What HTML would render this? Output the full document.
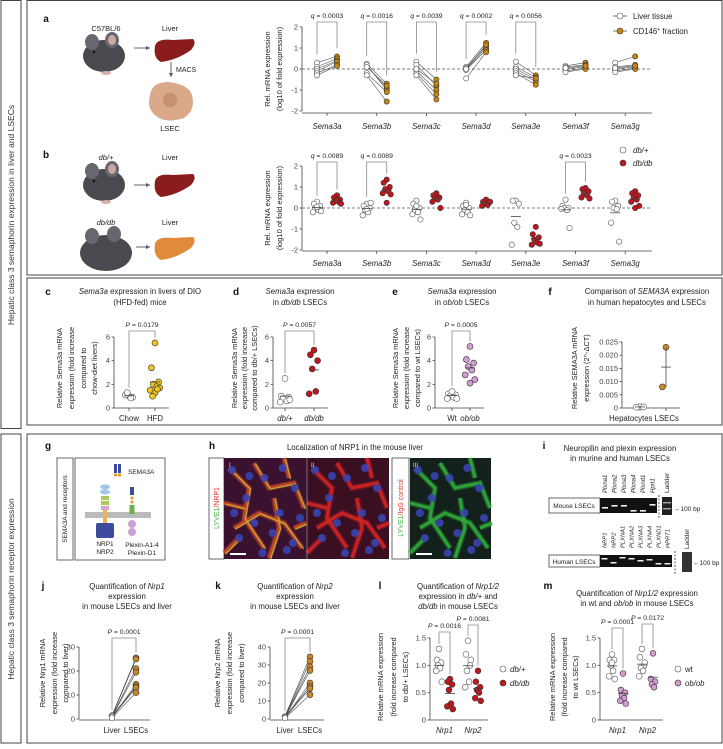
<!DOCTYPE html>
<html><head><meta charset="utf-8">
<style>
html,body{margin:0;padding:0;background:#fff;}
svg{display:block;font-family:"Liberation Sans",sans-serif;}
</style></head>
<body>
<svg id="fig" width="723" height="749" viewBox="0 0 723 749" xmlns="http://www.w3.org/2000/svg"></svg>
<script>
// ---------- DATA ----------
const semaCats = ['Sema3a','Sema3b','Sema3c','Sema3d','Sema3e','Sema3f','Sema3g'];
const aTickVals = [2,1,0,-1,-2];
const aLiver = [[0.3,0.1,0,-0.1,-0.2,-0.3],[0.25,0.15,0.2,-0.2,-0.3,0.1],[0.35,0.2,-0.1,-0.2,-0.3,0.0],[0.1,0.05,0,-0.05,-0.45,0.0],[0.35,0.1,0,-0.1,-0.2,-0.3],[0.15,0.1,0,-0.1,-0.15,0.05],[0.3,0.1,0,-0.1,-0.15,0.05]];
const aCD146 = [[0.6,0.5,0.4,0.35,0.2,0.15],[-0.7,-0.9,-1.0,-1.1,-1.55,-0.8],[-0.5,-0.8,-1.0,-1.2,-1.45,-0.7],[1.25,1.1,1.0,0.9,0.8,1.15],[-0.3,-0.4,-0.5,-0.6,-0.75,-0.45],[0.3,0.2,0.1,0.05,0,0.15],[0.6,0.2,0.1,0.05,0,0.15]];
const aQ = ['q = 0.0003','q = 0.0016','q = 0.0039','q = 0.0002','q = 0.0056'];
const bOpen = [[0.3,0.2,0.1,0,-0.1,-0.2,-0.15,0.05],[0.2,0.1,0,-0.1,-0.2,-0.35,0.25,-0.05],[0.35,0.2,0,-0.1,-0.2,-0.3,-0.55,0.1],[0.25,0.1,0,-0.1,-0.2,-0.3,-0.35,0.15],[0.35,0.35,0.2,-0.7,-0.9,-1.75],[0.4,0.1,0,0,-0.1,-0.05,-0.95],[0.35,0.3,0.1,0,-0.05,-0.7,-1.6]];
const bFilled = [[0.6,0.5,0.4,0.35,0.3,0.25,0.2,0.35],[1.35,1.2,1.0,0.9,0.8,0.7,0.65,0.25],[0.7,0.6,0.5,0.45,0.4,0.3,0.0],[0.4,0.3,0.25,0.2,0.15,0.1,0.3],[-0.9,-1.25,-1.4,-1.5,-1.65,-1.75,-1.7],[0.95,0.9,0.8,0.7,0.6,0.5,0.45],[0.8,0.7,0.6,0.5,0.4,0.3,0.1,0]];
const bQ = [['q = 0.0089',0],['q = 0.0089',1],['q = 0.0023',5]];
const cTicks = [0,2,4,6];
const cChow = [1.0,1.1,0.9,1.3,0.85];
const cHFD = [5.5,3.4,2.2,2.0,1.8,1.5,1.7,1.3,1.0,1.6];
const dDbPlus = [2.5,1.0,0.9,0.8,0.6,0.5,0.7];
const dDbDb = [4.9,4.5,4.0,3.3,1.4,1.2];
const eWt = [1.3,1.2,1.1,1.0,0.9,0.8,0.8,1.4];
const eOb = [5.2,4.1,3.8,3.5,3.2,2.8,2.4,2.1];
const fTicks = [0,0.005,0.010,0.015,0.020,0.025];
const fTickLabels = ['0','0.005','0.010','0.015','0.020','0.025'];
const fHep = [0.0005,0.0003,0.0004];
const fLSEC = [0.023,0.008];
const jTicks = [0,10,20,30];
const jLiver = [1.5,1.2,1.0,0.8,0.6,1.3,0.9,0.5];
const jLSEC = [25.5,25,21,19.5,14.5,13.5,13,11];
const kTicks = [0,10,20,30,40];
const kLiver = [1.5,1.2,1.0,0.8,0.6,1.3,0.9,0.5];
const kLSEC = [34.5,32,29,27,20,18,17,13.5];
const lmTicks = [0,0.5,1.0,1.5];
const lNrp1Plus = [1.3,1.1,1.05,1.0,0.95,0.9,0.7];
const lNrp1Db = [0.75,0.7,0.65,0.55,0.3,0.25,0.2];
const lNrp2Plus = [1.45,1.2,1.0,0.9,0.7,0.6,1.1];
const lNrp2Db = [0.9,0.7,0.6,0.55,0.5,0.4,0.35];
const mNrp1Wt = [1.2,1.1,1.1,1.0,0.9,0.8,0.75,1.05];
const mNrp1Ob = [0.85,0.55,0.5,0.45,0.4,0.35,0.3];
const mNrp2Wt = [1.3,1.15,1.0,0.95,0.9,0.8,1.05];
const mNrp2Ob = [1.22,0.75,0.7,0.65,0.6];

// ---------- HELPERS ----------
const NS='http://www.w3.org/2000/svg';
const svg=document.getElementById('fig');
function add(parent,tag,attrs,name){
  const e=document.createElementNS(NS,tag);
  for(const k in attrs) e.setAttribute(k,attrs[k]);
  
  
  parent.appendChild(e);
  return e;
}
function txt(parent,x,y,s,opt,name){
  opt=opt||{};
  const a={x:x,y:y,'font-size':opt.size||7,fill:opt.fill||'#222','text-anchor':opt.anchor||'middle'};
  if(opt.weight) a['font-weight']=opt.weight;
  if(opt.rot!==undefined) a.transform='rotate('+opt.rot+' '+x+' '+y+')';
  const t=add(parent,'text',a,name);
  const parts=s.split('*');
  parts.forEach((p,i)=>{ if(!p) return; const ts=document.createElementNS(NS,'tspan'); if(i%2===1) ts.setAttribute('font-style','italic'); ts.textContent=p; t.appendChild(ts);});
  return t;
}
function line(p,x1,y1,x2,y2,st,w,name,dash){
  const a={x1:x1,y1:y1,x2:x2,y2:y2,stroke:st||'#333','stroke-width':w||0.8};
  if(dash) a['stroke-dasharray']=dash;
  return add(p,'line',a,name);
}
function dot(p,x,y,r,fill,name){
  return add(p,'circle',{cx:x,cy:y,r:r,fill:fill,stroke:fill==='#fff'?'#555':'#333','stroke-width':0.6},name);
}
function lin(d0,d1,p0,p1){return v=>p0+(v-d0)*(p1-p0)/(d1-d0);}
function yAxis(p,x,ticks,ys,labels,name){
  const g=add(p,'g',{},name);
  line(g,x,ys(ticks[0]),x,ys(ticks[ticks.length-1]),'#444',0.8,'y-axis-line');
  ticks.forEach((t,i)=>{ line(g,x-2.5,ys(t),x,ys(t),'#444',0.8,'y-tick'); txt(g,x-4,ys(t)+2.5,labels?labels[i]:String(t),{anchor:'end',size:7.5,fill:'#444'},'y-tick-label');});
  return g;
}
function jit(i){return [0,-3,3,-1.5,1.5,-4,4,0,-2,2][i%10];}
function meanOf(a){return a.reduce((s,v)=>s+v,0)/a.length;}
function meanBar(p,x,vals,ys,name){
  const m=meanOf(vals);
  line(p,x-5,ys(m),x+5,ys(m),'#444',0.8,name);
}
function bracket(p,x1,x2,yTop,y1,y2,label,name){
  const g=add(p,'g',{},name);
  add(g,'polyline',{points:x1+','+y1+' '+x1+','+yTop+' '+x2+','+yTop+' '+x2+','+y2,fill:'none',stroke:'#888','stroke-width':0.8},'significance-bracket');
  txt(g,(x1+x2)/2,yTop-4,label,{size:6.8},'p-value-label');
}

// ---------- FRAMES ----------
const fr=add(svg,'g',{},'frames');
add(fr,'rect',{x:1,y:0.5,width:20,height:428,fill:'none',stroke:'#444','stroke-width':1},'section-label-box-top');
add(fr,'rect',{x:1,y:434,width:20,height:309,fill:'none',stroke:'#444','stroke-width':1},'section-label-box-bottom');
add(fr,'rect',{x:27,y:0.5,width:695,height:274.5,fill:'none',stroke:'#444','stroke-width':1},'panel-ab-box');
add(fr,'rect',{x:27,y:278,width:695,height:147,fill:'none',stroke:'#444','stroke-width':1},'panel-cf-box');
add(fr,'rect',{x:27,y:434,width:695,height:309,fill:'none',stroke:'#444','stroke-width':1},'panel-gm-box');
txt(svg,14,215,'Hepatic class 3 semaphorin expression in liver and LSECs',{rot:-90,size:8.5,fill:'#333'},'section-title-top');
txt(svg,14,589,'Hepatic class 3 semaphorin receptor expression',{rot:-90,size:8.5,fill:'#333'},'section-title-bottom');

// ---------- ILLUSTRATIONS ----------
function mouse(p,x,y,name){
  const g=add(p,'g',{},name);
  add(g,'ellipse',{cx:x+22,cy:y+20,rx:21,ry:16,fill:'#4a4950'},'mouse-body');
  add(g,'ellipse',{cx:x+10,cy:y+6,rx:7,ry:8,fill:'#6a6670'},'mouse-ear');
  add(g,'ellipse',{cx:x+30,cy:y+4,rx:7,ry:8,fill:'#6a6670'},'mouse-ear');
  add(g,'ellipse',{cx:x+30,cy:y+4,rx:4,ry:5,fill:'#c9a9a0'},'mouse-ear-inner');
  add(g,'circle',{cx:x+12,cy:y+16,r:1.2,fill:'#111'},'mouse-eye');
  add(g,'ellipse',{cx:x+24,cy:y+37,rx:5,ry:2,fill:'#d8b0a8'},'mouse-foot');
}
function liver(p,x,y,col,name){
  add(p,'path',{d:'M'+x+' '+(y+6)+' Q'+(x+2)+' '+(y-2)+' '+(x+18)+' '+y+' L'+(x+38)+' '+(y-1)+' Q'+(x+42)+' '+(y+3)+' '+(x+36)+' '+(y+10)+' Q'+(x+22)+' '+(y+20)+' '+(x+6)+' '+(y+22)+' Q'+(x-2)+' '+(y+18)+' '+x+' '+(y+6)+'Z',fill:col},name);
}
function arrow(p,x1,y1,x2,y2,name){
  const g=add(p,'g',{},name);
  line(g,x1,y1,x2,y2,'#556',0.9,'arrow-shaft');
  const dx=x2-x1,dy=y2-y1,L=Math.hypot(dx,dy),ux=dx/L,uy=dy/L;
  add(g,'polygon',{points:x2+','+y2+' '+(x2-4*ux-2*uy)+','+(y2-4*uy+2*ux)+' '+(x2-4*ux+2*uy)+','+(y2-4*uy-2*ux),fill:'#556'},'arrow-head');
}
const il=add(svg,'g',{},'illustrations');
txt(il,46,22,'a',{size:10,weight:'bold',fill:'#111'},'panel-label-a');
txt(il,106,31,'C57BL/6',{size:7.5},'strain-label');
txt(il,170,31,'Liver',{size:7.5},'liver-label');
mouse(il,82,36,'mouse-c57bl6');
arrow(il,134,48,150,48,'arrow-to-liver');
liver(il,155,40,'#8b1c1c','liver-icon');
arrow(il,171,62,171,77,'macs-arrow');
txt(il,176,72,'MACS',{size:7,anchor:'start'},'macs-label');
add(il,'path',{d:'M150 95 Q152 82 168 82 Q188 84 192 95 Q196 110 184 118 Q166 124 156 116 Q146 108 150 95Z',fill:'#d9a98a'},'lsec-cell');
add(il,'circle',{cx:170,cy:100,r:7,fill:'#c59172'},'lsec-nucleus');
txt(il,170,131,'LSEC',{size:7.5},'lsec-label');
txt(il,46,158,'b',{size:10,weight:'bold',fill:'#111'},'panel-label-b');
txt(il,106,160,'*db/+*',{size:7.5},'dbplus-label');
txt(il,170,160,'Liver',{size:7.5},'liver-label-b1');
mouse(il,82,165,'mouse-dbplus');
arrow(il,134,185,150,185,'arrow-b1');
liver(il,155,175,'#8b1c1c','liver-icon-b1');
txt(il,106,225,'*db/db*',{size:7.5},'dbdb-label');
txt(il,170,225,'Liver',{size:7.5},'liver-label-b2');
add(il,'ellipse',{cx:106,cy:253,rx:26,ry:18,fill:'#4a4950'},'mouse-dbdb-body');
add(il,'ellipse',{cx:92,cy:236,rx:7,ry:8,fill:'#6a6670'},'mouse-ear');
add(il,'ellipse',{cx:114,cy:234,rx:7,ry:8,fill:'#6a6670'},'mouse-ear');
arrow(il,136,247,150,247,'arrow-b2');
liver(il,155,238,'#e08a3a','liver-icon-b2');

// ---------- PANEL A ----------
const pa=add(svg,'g',{},'panel-a-chart');
const yaS=lin(0,2,69,27);
const xaS=i=>327+i*49.7;
yAxis(pa,302,aTickVals.slice().reverse(),yaS,null,'panel-a-y-axis');
line(pa,302,113,652,113,'#444',0.8,'panel-a-x-axis');
line(pa,302,yaS(0),652,yaS(0),'#555',0.8,'zero-line','3,2');
txt(pa,270,69,'Rel. mRNA expression',{rot:-90,size:7.5},'y-axis-title-a');
txt(pa,282,69,'(log10 of fold expression)',{rot:-90,size:7.5},'y-axis-title-a-2');
semaCats.forEach((c,i)=>{
  const cx=xaS(i);
  line(pa,cx,113,cx,116,'#444',0.8,'x-tick');
  txt(pa,cx,129,'*'+c+'*',{size:7.8},'x-tick-label');
  aLiver[i].forEach((v,k)=>{ line(pa,cx-10,yaS(v),cx+10,yaS(aCD146[i][k]),'#555',0.6,'pair-line'); });
  aLiver[i].forEach((v,k)=>dot(pa,cx-10,yaS(v),2.6,'#fff','liver-tissue-point'));
  aCD146[i].forEach((v,k)=>dot(pa,cx+10,yaS(v),2.6,'#c8860d','cd146-point'));
  if(i<aQ.length){
    bracket(pa,cx-10,cx+10,22,yaS(Math.max(...aLiver[i]))-8,yaS(Math.max(...aCD146[i]))-8,'*q* = '+aQ[i].slice(4),'bracket-'+c);
  }
});
line(pa,613,16,627,16,'#555',0.8,'legend-line');
dot(pa,620,16,3,'#fff','legend-liver-tissue');
txt(pa,633,19,'Liver tissue',{size:7.8,anchor:'start'},'legend-liver-tissue-label');
line(pa,613,31,627,31,'#555',0.8,'legend-line');
dot(pa,620,31,3,'#c8860d','legend-cd146');
const lt=txt(pa,633,34,'CD146',{size:7.8,anchor:'start'},'legend-cd146-label');
const sup=document.createElementNS(NS,'tspan');sup.setAttribute('dy','-3');sup.setAttribute('font-size','5');sup.textContent='+';lt.appendChild(sup);
const rest=document.createElementNS(NS,'tspan');rest.setAttribute('dy','3');rest.textContent=' fraction';lt.appendChild(rest);

// ---------- PANEL B ----------
const pb=add(svg,'g',{},'panel-b-chart');
const ybS=lin(0,2,208,166);
yAxis(pb,302,aTickVals.slice().reverse(),ybS,null,'panel-b-y-axis');
line(pb,302,251,652,251,'#444',0.8,'panel-b-x-axis');
line(pb,302,ybS(0),652,ybS(0),'#555',0.8,'zero-line-b','3,2');
txt(pb,270,208,'Rel. mRNA expression',{rot:-90,size:7.5},'y-axis-title-b');
txt(pb,282,208,'(log10 of fold expression)',{rot:-90,size:7.5},'y-axis-title-b-2');
semaCats.forEach((c,i)=>{
  const cx=xaS(i);
  line(pb,cx,251,cx,254,'#444',0.8,'x-tick');
  txt(pb,cx,266,'*'+c+'*',{size:7.8},'x-tick-label');
  bOpen[i].forEach((v,k)=>dot(pb,cx-10+jit(k),ybS(v),2.7,'#fff','dbplus-point'));
  meanBar(pb,cx-10,bOpen[i],ybS,'mean-dbplus');
  bFilled[i].forEach((v,k)=>dot(pb,cx+10+jit(k),ybS(v),2.7,'#c0161c','dbdb-point'));
  meanBar(pb,cx+10,bFilled[i],ybS,'mean-dbdb');
});
bQ.forEach(q=>{const cx=xaS(q[1]); bracket(pb,cx-10,cx+10,162,ybS(Math.max(...bOpen[q[1]]))-6,ybS(Math.max(...bFilled[q[1]]))-6,'*q* = '+q[0].slice(4),'bracket-b-'+q[1]);});
dot(pb,623,150,3,'#fff','legend-dbplus');
txt(pb,633,153,'*db/+*',{size:7.8,anchor:'start'},'legend-dbplus-label');
dot(pb,623,163,3,'#c0161c','legend-dbdb');
txt(pb,633,166,'*db/db*',{size:7.8,anchor:'start'},'legend-dbdb-label');

// ---------- PANELS C-F ----------
function twoGroup(opt){
  const g=add(svg,'g',{},opt.name);
  txt(g,opt.lx,295,opt.letter,{size:10,weight:'bold',fill:'#111'},'panel-label-'+opt.letter);
  opt.title.forEach((t,i)=>txt(g,opt.tx,294+i*11,t,{size:7.8},'panel-title'));
  const ys=opt.ys;
  yAxis(g,opt.ax,opt.ticks,ys,opt.tickLabels,'y-axis');
  line(g,opt.ax,408,opt.x2+14,408,'#444',0.8,'x-axis');
  opt.ylab.forEach((t,i)=>txt(g,opt.ylx[i],368,t,{rot:-90,size:7.4},'y-axis-title'));
  [[opt.x1,opt.g1,opt.c1,opt.n1],[opt.x2,opt.g2,opt.c2,opt.n2]].forEach(s=>{
    line(g,s[0],408,s[0],411,'#444',0.8,'x-tick');
    txt(g,s[0],421,s[3],{size:7.8},'x-tick-label');
    s[1].forEach((v,k)=>dot(g,s[0]+jit(k)*1.2,ys(v),3,s[2],'data-point'));
    meanBar(g,s[0],s[1],ys,'mean-line');
  });
  if(opt.p) bracket(g,opt.x1,opt.x2,331,ys(Math.max(...opt.g1))-5,ys(Math.max(...opt.g2))-5,opt.p,'significance');
  return g;
}
const ycS=lin(0,6,408,337);
twoGroup({name:'panel-c',letter:'c',lx:48,tx:140,title:['*Sema3a* expression in livers of DIO','(HFD-fed) mice'],ys:ycS,ax:114,ticks:cTicks,x1:129,x2:155,g1:cChow,g2:cHFD,c1:'#fff',c2:'#f2c21b',n1:'Chow',n2:'HFD',ylab:['Relative Sema3a mRNA','expression (fold increase','compared to','chow-diet livers)'],ylx:[62,74,86,97],p:'*P* = 0.0179'});
twoGroup({name:'panel-d',letter:'d',lx:236,tx:300,title:['*Sema3a* expression','in *db/db* LSECs'],ys:ycS,ax:273,ticks:cTicks,x1:285,x2:314,g1:dDbPlus,g2:dDbDb,c1:'#fff',c2:'#c0161c',n1:'*db/+*',n2:'*db/db*',ylab:['Relative Sema3a mRNA','expression (fold increase','compared to db/+ LSECs)'],ylx:[237,247,257],p:'*P* = 0.0057'});
twoGroup({name:'panel-e',letter:'e',lx:395,tx:462,title:['*Sema3a* expression','in *ob/ob* LSECs'],ys:ycS,ax:435,ticks:cTicks,x1:452,x2:470,g1:eWt,g2:eOb,c1:'#fff',c2:'#d79bd3',n1:'Wt',n2:'*ob/ob*',ylab:['Relative Sema3a mRNA','expression (fold increase','compared to wt LSECs)'],ylx:[398,409,420],p:'*P* = 0.0005'});
const yfS=lin(0,0.025,408,342);
const pf=twoGroup({name:'panel-f',letter:'f',lx:550,tx:647,title:['Comparison of *SEMA3A* expression','in human hepatocytes and LSECs'],ys:yfS,ax:622,ticks:fTicks,tickLabels:fTickLabels,x1:640,x2:666,g1:fHep,g2:fLSEC,c1:'#fff',c2:'#c98a2c',n1:'',n2:'',ylab:['Relative SEMA3A mRNA','expression (2^-ΔCT)'],ylx:[577,589],p:null});
txt(pf,644,421,'Hepatocytes LSECs',{size:7.8},'x-tick-label-f');
line(pf,666,yfS(fLSEC[0]),666,yfS(fLSEC[1]),'#444',0.8,'range-line');

// ---------- PANEL G ----------
const pg=add(svg,'g',{},'panel-g');
txt(pg,48,449,'g',{size:10,weight:'bold',fill:'#111'},'panel-label-g');
add(pg,'rect',{x:57,y:458,width:16,height:102,fill:'none',stroke:'#444','stroke-width':0.8},'g-label-box');
add(pg,'rect',{x:75,y:458,width:90,height:102,fill:'none',stroke:'#444','stroke-width':0.8},'g-diagram-box');
txt(pg,67,509,'SEMA3A and receptors',{rot:-90,size:6.5},'g-side-label');
add(pg,'rect',{x:114,y:464,width:3,height:9,fill:'#3a4ba0'},'sema3a-chain');
add(pg,'rect',{x:118,y:464,width:3,height:9,fill:'#3a4ba0'},'sema3a-chain');
add(pg,'circle',{cx:115.5,cy:475,r:1.6,fill:'#e8952a'},'sema3a-dot');
add(pg,'circle',{cx:119.5,cy:475,r:1.6,fill:'#e8952a'},'sema3a-dot');
txt(pg,128,474,'SEMA3A',{size:6.5,anchor:'start'},'sema3a-label');
add(pg,'rect',{x:85,y:512,width:66,height:6,fill:'#bbb'},'cell-membrane');
add(pg,'ellipse',{cx:105,cy:487,rx:5,ry:2.5,fill:'#9fc6e6'},'nrp-domain');
add(pg,'ellipse',{cx:105,cy:492,rx:5,ry:2.5,fill:'#9fc6e6'},'nrp-domain');
add(pg,'rect',{x:101,y:496,width:8,height:4,fill:'#a8c85a'},'nrp-domain');
add(pg,'rect',{x:101,y:501,width:8,height:4,fill:'#a8c85a'},'nrp-domain');
add(pg,'rect',{x:101,y:506,width:8,height:4,fill:'#d8a0d0'},'nrp-domain');
add(pg,'rect',{x:103,y:510,width:4,height:14,fill:'#f0b050'},'nrp-tm');
add(pg,'rect',{x:96,y:523,width:18,height:15,rx:2,fill:'#3a4ba0'},'nrp-cyto');
add(pg,'rect',{x:130,y:487,width:4,height:8,fill:'#3a4ba0'},'plexin-sema');
add(pg,'circle',{cx:132,cy:498,r:1.5,fill:'#e8952a'},'plexin-psi');
add(pg,'circle',{cx:132,cy:502,r:1.5,fill:'#e8952a'},'plexin-psi');
add(pg,'rect',{x:129.5,y:505,width:5,height:9,fill:'#6ab04c'},'plexin-ipt');
add(pg,'ellipse',{cx:132,cy:524,rx:4,ry:4,fill:'#c9a0d4'},'plexin-gap');
add(pg,'ellipse',{cx:132,cy:532,rx:4,ry:4,fill:'#c9a0d4'},'plexin-gap');
txt(pg,105,546,'NRP1',{size:6.5},'nrp1-label');
txt(pg,105,554,'NRP2',{size:6.5},'nrp2-label');
txt(pg,142,547,'Plexin-A1-4',{size:6.5},'plexin-a-label');
txt(pg,142,555,'Plexin-D1',{size:6.5},'plexin-d-label');

// ---------- PANEL H ----------
const ph=add(svg,'g',{},'panel-h');
txt(ph,212,449,'h',{size:10,weight:'bold',fill:'#111'},'panel-label-h');
txt(ph,355,450,'Localization of NRP1 in the mouse liver',{size:7.8},'panel-title-h');
add(ph,'rect',{x:209,y:458,width:15,height:101,fill:'#fff',stroke:'#444','stroke-width':0.8},'h-label-box-1');
const l1=txt(ph,219,508,'LYVE1',{rot:-90,size:7,fill:'#3cb83c'},'h-stain-label-1');
const l1b=document.createElementNS(NS,'tspan');l1b.setAttribute('fill','#e0302a');l1b.textContent='/NRP1';l1.appendChild(l1b);
add(ph,'rect',{x:392,y:458,width:17,height:101,fill:'#fff',stroke:'#444','stroke-width':0.8},'h-label-box-2');
const l2=txt(ph,403,508,'LYVE1',{rot:-90,size:7,fill:'#3cb83c'},'h-stain-label-2');
const l2b=document.createElementNS(NS,'tspan');l2b.setAttribute('fill','#e0302a');l2b.textContent='/IgG control';l2.appendChild(l2b);
const nucX=[8,22,40,55,70,15,48,62,30,75,10,38,58,25,68];
const nucY=[12,40,20,55,30,80,75,92,65,60,55,95,10,18,85];
function micro(x,w,bg,col1,col2,name){
  const g=add(ph,'g',{},name);
  add(g,'rect',{x:x,y:458,width:w,height:101,fill:bg},'micrograph-bg');
  const paths=['M5 10 L25 30 L20 60 L40 90','M30 5 L45 30 L70 25 L80 50','M10 70 L35 55 L60 65 L78 90','M50 40 L55 70 L45 100','M0 45 L20 50','M60 0 L65 20','M0 95 L15 80','M70 70 L82 65'];
  paths.forEach(d=>add(g,'path',{d:d,transform:'translate('+x+' 458)',stroke:col1,'stroke-width':6,fill:'none','stroke-opacity':0.35},'vessel-halo'));
  paths.forEach(d=>add(g,'path',{d:d,transform:'translate('+x+' 458)',stroke:col1,'stroke-width':3.2,fill:'none','stroke-opacity':0.9},'vessel'));
  if(col2) paths.forEach(d=>add(g,'path',{d:d,transform:'translate('+(x+1.5)+' 459)',stroke:col2,'stroke-width':1.4,fill:'none','stroke-opacity':0.9},'vessel-overlay'));
  nucX.forEach((nx,i)=>add(g,'circle',{cx:x+nx*w/82,cy:458+nucY[i],r:4,fill:'#3844b0','fill-opacity':0.9},'nucleus'));
}
micro(224,83,'#3a1230','#c8482a','#c8b030','micrograph-1');
micro(307,82,'#3a0f22','#d02424',null,'micrograph-2');
micro(410,81,'#14201c','#2eaa3a',null,'micrograph-3');
line(ph,307,458,307,559,'#aaa',0.6,'image-divider');
txt(ph,229,467,'I',{size:6,fill:'#ddd',anchor:'start'},'image-label-i');
txt(ph,311,467,'II',{size:6,fill:'#ddd',anchor:'start'},'image-label-ii');
txt(ph,413,467,'III',{size:6,fill:'#ddd',anchor:'start'},'image-label-iii');
add(ph,'rect',{x:230,y:553,width:16,height:2,fill:'#fff'},'scale-bar-1');
add(ph,'rect',{x:416,y:553,width:16,height:2,fill:'#fff'},'scale-bar-3');

// ---------- PANEL I ----------
const pi=add(svg,'g',{},'panel-i');
const mouseLanes=['Plxna1','Plxna2','Plxna3','Plxna4','Plxnd1','Hprt1'];
const humanLanes=['NRP1','NRP2','PLXNA1','PLXNA2','PLXNA3','PLXNA4','PLXND1','HPRT1'];
txt(pi,544,449,'i',{size:10,weight:'bold',fill:'#111'},'panel-label-i');
txt(pi,620,451,'Neuropilin and plexin expression',{size:7.8},'panel-title-i');
txt(pi,620,461,'in murine and human LSECs',{size:7.8},'panel-title-i-2');
add(pi,'rect',{x:549,y:498,width:51,height:15,fill:'#fff',stroke:'#444','stroke-width':0.8},'mouse-lsec-label-box');
txt(pi,574,508,'Mouse LSECs',{size:6.5},'mouse-lsec-label');
add(pi,'rect',{x:600,y:498,width:57,height:15,fill:'#111'},'mouse-gel');
const mBandY=[507,505,505,510,510,504];
mouseLanes.forEach((l,i)=>{const cx=605+i*9.5; txt(pi,cx+2,493,'*'+l+'*',{rot:-90,size:6,anchor:'start'},'mouse-lane-label'); add(pi,'rect',{x:cx-3,y:mBandY[i],width:6,height:1.6,fill:'#eee'},'gel-band');});
line(pi,659,495,659,518,'#333',0.8,'gel-divider','2,1.5');
add(pi,'rect',{x:662,y:497,width:10,height:18,fill:'#222'},'mouse-ladder');
add(pi,'rect',{x:663,y:502,width:8,height:1.4,fill:'#aaa'},'ladder-band');
add(pi,'rect',{x:663,y:508,width:8,height:1.4,fill:'#aaa'},'ladder-band');
txt(pi,669,493,'Ladder',{rot:-90,size:6.5,anchor:'start'},'mouse-ladder-label');
txt(pi,674,511,'←100 bp',{size:6.5,anchor:'start'},'mouse-100bp-label');
add(pi,'rect',{x:549,y:555,width:51,height:12,fill:'#fff',stroke:'#444','stroke-width':0.8},'human-lsec-label-box');
txt(pi,574,564,'Human LSECs',{size:6.5},'human-lsec-label');
add(pi,'rect',{x:600,y:555,width:72,height:12,fill:'#111'},'human-gel');
const hBandY=[558,562,557,558,560,559,563,563];
humanLanes.forEach((l,i)=>{const cx=604.5+i*9; txt(pi,cx+2,548,'*'+l+'*',{rot:-90,size:5.8,anchor:'start'},'human-lane-label'); add(pi,'rect',{x:cx-3,y:hBandY[i],width:6,height:1.5,fill:'#eee'},'gel-band');});
line(pi,675,551,675,574,'#333',0.8,'gel-divider','2,1.5');
add(pi,'rect',{x:682,y:552,width:10,height:20,fill:'#333'},'human-ladder');
txt(pi,689,549,'Ladder',{rot:-90,size:6.5,anchor:'start'},'human-ladder-label');
txt(pi,693,565,'←100 bp',{size:6.5,anchor:'start'},'human-100bp-label');

// ---------- PANELS J-M ----------
function paired(opt){
  const g=add(svg,'g',{},opt.name);
  txt(g,opt.lx,589,opt.letter,{size:10,weight:'bold',fill:'#111'},'panel-label-'+opt.letter);
  opt.title.forEach((t,i)=>txt(g,opt.tx,589+i*10,t,{size:7.8},'panel-title'));
  const ys=opt.ys;
  yAxis(g,opt.ax,opt.ticks,ys,null,'y-axis');
  line(g,opt.ax,720,opt.x2+14,720,'#444',0.8,'x-axis');
  opt.ylab.forEach((t,i)=>txt(g,opt.ylx[i],673,t,{rot:-90,size:7.4},'y-axis-title'));
  txt(g,opt.x1,733,'Liver',{size:7.8},'x-tick-label');
  txt(g,opt.x2,733,'LSECs',{size:7.8},'x-tick-label');
  opt.g1.forEach((v,k)=>line(g,opt.x1,ys(v),opt.x2,ys(opt.g2[k]),'#444',0.6,'pair-line'));
  opt.g1.forEach(v=>dot(g,opt.x1,ys(v),2.8,'#fff','liver-point'));
  opt.g2.forEach(v=>dot(g,opt.x2,ys(v),3,'#c8862a','lsec-point'));
  bracket(g,opt.x1,opt.x2,638,ys(Math.max(...opt.g1))-5,ys(Math.max(...opt.g2))-5,'*P* = 0.0001','significance');
}
paired({name:'panel-j',letter:'j',lx:43,tx:127,title:['Quantification of *Nrp1*','expression','in mouse LSECs and liver'],ys:lin(0,30,719,647),ax:79,ticks:jTicks,x1:112,x2:136,g1:jLiver,g2:jLSEC,ylab:['Relative Nrp1 mRNA','expression (fold increase','compared to liver)'],ylx:[45,57,68]});
paired({name:'panel-k',letter:'k',lx:218,tx:295,title:['Quantification of *Nrp2*','expression','in mouse LSECs and liver'],ys:lin(0,40,719,647),ax:270,ticks:kTicks,x1:285,x2:310,g1:kLiver,g2:kLSEC,ylab:['Relative Nrp2 mRNA','expression (fold increase','compared to liver)'],ylx:[220,232,244]});

function grouped(opt){
  const g=add(svg,'g',{},opt.name);
  txt(g,opt.lx,589,opt.letter,{size:10,weight:'bold',fill:'#111'},'panel-label-'+opt.letter);
  opt.title.forEach((t,i)=>txt(g,opt.tx,opt.ty+i*10,t,{size:7.8},'panel-title'));
  const ys=lin(0,1.5,720,638);
  yAxis(g,opt.ax,lmTicks,ys,['0','0.5','1.0','1.5'],'y-axis');
  line(g,opt.ax,720,opt.xs[3]+10,720,'#444',0.8,'x-axis');
  opt.ylab.forEach((t,i)=>txt(g,opt.ylx[i],677,t,{rot:-90,size:7.4},'y-axis-title'));
  txt(g,(opt.xs[0]+opt.xs[1])/2,733,'*Nrp1*',{size:7.8},'x-tick-label');
  txt(g,(opt.xs[2]+opt.xs[3])/2,733,'*Nrp2*',{size:7.8},'x-tick-label');
  opt.groups.forEach((arr,gi)=>{
    const col=gi%2===0?'#fff':opt.col;
    arr.forEach((v,k)=>dot(g,opt.xs[gi]+jit(k)*0.7,ys(v),2.9,col,gi%2===0?'control-point':'disease-point'));
    meanBar(g,opt.xs[gi],arr,ys,'mean-line');
  });
  bracket(g,opt.xs[0],opt.xs[1],opt.b1y,ys(Math.max(...opt.groups[0]))-5,ys(Math.max(...opt.groups[1]))-5,opt.p1,'significance-nrp1');
  bracket(g,opt.xs[2],opt.xs[3],opt.b2y,ys(Math.max(...opt.groups[2]))-5,ys(Math.max(...opt.groups[3]))-5,opt.p2,'significance-nrp2');
  dot(g,opt.legx,669,3,'#fff','legend-control');
  txt(g,opt.legx+7,672,opt.leg1,{size:7.8,anchor:'start'},'legend-control-label');
  dot(g,opt.legx,683,3,opt.col,'legend-disease');
  txt(g,opt.legx+7,686,opt.leg2,{size:7.8,anchor:'start'},'legend-disease-label');
}
grouped({name:'panel-l',letter:'l',lx:380,tx:458,ty:589,title:['Quantification of *Nrp1/2*','expression in *db/+* and','*db/db* in mouse LSECs'],ax:430,xs:[439,450,468,478],groups:[lNrp1Plus,lNrp1Db,lNrp2Plus,lNrp2Db],col:'#c0161c',b1y:632,b2y:625,p1:'*P* = 0.0016',p2:'*P* = 0.0081',legx:503,leg1:'*db/+*',leg2:'*db/db*',ylab:['Relative mRNA expression','(fold increase compared','to db/+ LSECs)'],ylx:[383,396,408]});
grouped({name:'panel-m',letter:'m',lx:548,tx:637,ty:596,title:['Quantification of *Nrp1/2* expression','in wt and *ob/ob* in mouse LSECs'],ax:600,xs:[612,623,642,653],groups:[mNrp1Wt,mNrp1Ob,mNrp2Wt,mNrp2Ob],col:'#d79bd3',b1y:628,b2y:624,p1:'*P* = 0.0001',p2:'*P* = 0.0172',legx:678,leg1:'wt',leg2:'*ob/ob*',ylab:['Relative mRNA expression','(fold increase compared','to wt LSECs)'],ylx:[555,567,578]});
</script>
</body></html>
